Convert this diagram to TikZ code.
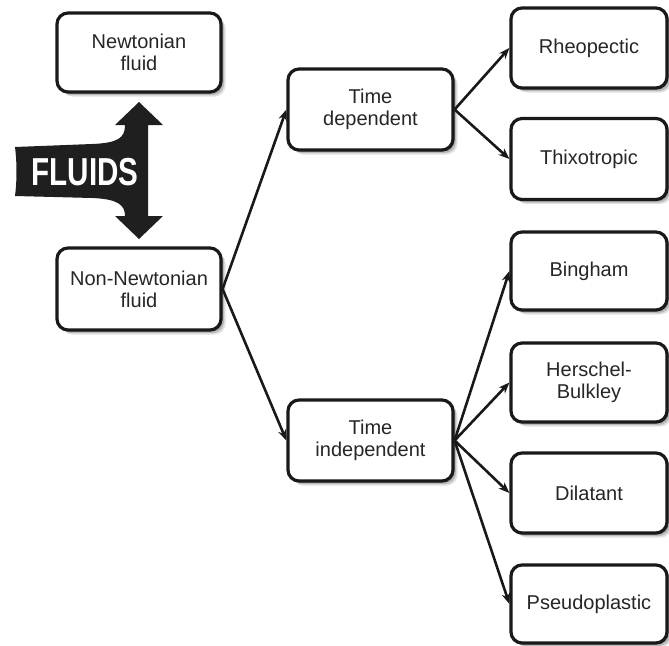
\documentclass[tikz,border=0pt]{standalone}
\usepackage{fontspec}
\setmainfont{Liberation Sans}
\usetikzlibrary{arrows.meta,shadows}
\begin{document}
\begin{tikzpicture}[x=1pt,y=-1pt,
  box/.style={draw=black!90, line width=3.2pt, rounded corners=11pt, fill=white,
    align=center, text=black!85, font=\fontsize{20}{22}\selectfont,
    minimum width=#1, inner sep=0pt,
    drop shadow={shadow xshift=4.5pt,shadow yshift=-4.5pt,opacity=0.12,fill=black},
    drop shadow={shadow xshift=3pt,shadow yshift=-3pt,opacity=0.18,fill=black},
    drop shadow={shadow xshift=1.5pt,shadow yshift=-1.5pt,opacity=0.22,fill=black}},
  box/.default=164pt,
  conn/.style={draw=black!90, line width=2.6pt, -{Stealth[length=11pt,width=8.5pt]}}]
\useasboundingbox (0,0) rectangle (669,645);

% FLUIDS arrow shape
\fill[black!88] (15,147) -- (92,144) .. controls (118,143) and (125,138) .. (125,125)
  -- (115,125) -- (139,102) -- (163,125) -- (148,125) -- (148,216) -- (163,216)
  -- (139,239) -- (115,216) -- (125,216) .. controls (125,205) and (118,199) .. (92,198)
  -- (15,196) .. controls (17,180) and (17,163) .. (15,147) -- cycle;
\node[text=white, inner sep=0pt] (fl) at (85,172) {\scalebox{0.76}[1]{\fontsize{39}{39}\selectfont\bfseries FLUIDS}};

\node[box, minimum height=79pt] (newt) at (139,52.5) {Newtonian\\fluid};
\node[box, minimum height=82pt] (nn) at (139,289) {Non-Newtonian\\fluid};
\node[box=165pt, minimum height=81pt] (td) at (370.5,109.5) {Time\\dependent};
\node[box=165pt, minimum height=81pt] (ti) at (370.5,440.5) {Time\\independent};
\node[box=156pt, minimum height=80pt] (rh) at (589,48) {Rheopectic};
\node[box=156pt, minimum height=81pt] (th) at (589,159) {Thixotropic};
\node[box=156pt, minimum height=78pt] (bi) at (589,271) {Bingham};
\node[box=156pt, minimum height=79pt] (hb) at (589,382.5) {Herschel-\\Bulkley};
\node[box=156pt, minimum height=80pt] (di) at (589,493) {Dilatant};
\node[box=156pt, minimum height=78pt] (ps) at (589,604) {Pseudoplastic};

\draw[conn] (nn.east) -- (td.west);
\draw[conn] (nn.east) -- (ti.west);
\draw[conn] (td.east) -- (rh.west);
\draw[conn] (td.east) -- (th.west);
\draw[conn] (ti.east) -- (bi.west);
\draw[conn] (ti.east) -- (hb.west);
\draw[conn] (ti.east) -- (di.west);
\draw[conn] (ti.east) -- (ps.west);
\end{tikzpicture}
\end{document}
